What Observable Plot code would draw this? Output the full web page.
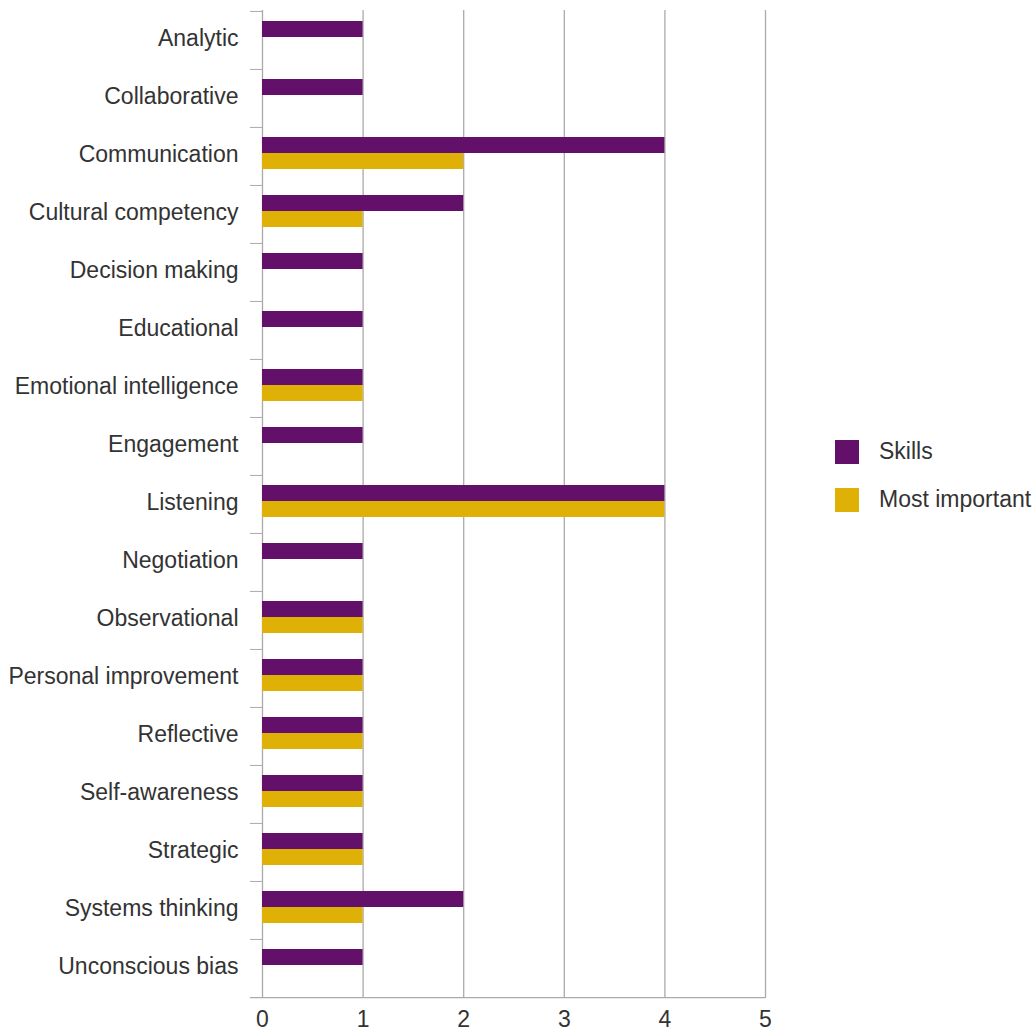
<!DOCTYPE html>
<html>
<head>
<meta charset="utf-8">
<script src="https://cdn.jsdelivr.net/npm/d3@7"></script>
<script src="https://cdn.jsdelivr.net/npm/@observablehq/plot@0.6"></script>
<style>
  html, body { margin: 0; padding: 0; background: #fff; }
  #wrap { position: relative; width: 1033px; height: 1033px; font-family: "Liberation Sans", Arial, sans-serif; }
  .legend { position: absolute; left: 835px; font-size: 23px; color: #333; display: flex; align-items: center; }
  .sw { width: 24px; height: 24px; margin-right: 20px; }
</style>
</head>
<body>
<div id="wrap"></div>
<script>
const categories = ["Analytic","Collaborative","Communication","Cultural competency","Decision making","Educational","Emotional intelligence","Engagement","Listening","Negotiation","Observational","Personal improvement","Reflective","Self-awareness","Strategic","Systems thinking","Unconscious bias"];
const skills =        [1,1,4,2,1,1,1,1,4,1,1,1,1,1,1,2,1];
const mostImportant = [0,0,2,1,0,0,1,0,4,0,1,1,1,1,1,1,0];
const xTicks = [0,1,2,3,4,5];
const seriesNames = ["Skills","Most important"];
const colors = ["#63106a","#dfb006"];

const skillsData = categories.map((c,i)=>({category:c, value:skills[i]}));
const mostData = categories.map((c,i)=>({category:c, value:mostImportant[i]})).filter(d=>d.value>0);

const plot = Plot.plot({
  width: 1033,
  height: 1033,
  marginLeft: 262,
  marginRight: 268,
  marginTop: 10,
  marginBottom: 35,
  style: {fontFamily: '"Liberation Sans", Arial, sans-serif', fontSize: "23px", color: "#333", background: "#fff"},
  x: {domain: [0,5], ticks: xTicks, label: null},
  y: {domain: categories, padding: 0, label: null},
  marks: [
    Plot.ruleX(xTicks.slice(1), {stroke: "#aaa", strokeWidth: 1.3}),
    Plot.ruleX([0], {stroke: "#aaa", strokeWidth: 1.3}),
    Plot.barX(skillsData, {x: "value", y: "category", fill: colors[0], insetTop: 10, insetBottom: 32}),
    Plot.barX(mostData, {x: "value", y: "category", fill: colors[1], insetTop: 26, insetBottom: 16}),
    Plot.axisY({tickSize: 12, text: null, dy: -29.06, stroke: "#aaa", label: null}),
    Plot.ruleY([0], {y: () => categories[categories.length-1], dy: 29.06, x1: -0.12, x2: 5, stroke: "#aaa", strokeWidth: 1.3}),
    Plot.axisY({tickSize: 0, tickPadding: 24, dy: -2, fill: "#333", fontSize: 23, label: null}),
    Plot.axisX({ticks: xTicks, tickFormat: "d", tickSize: 0, tickPadding: 12, fill: "#333", fontSize: 23, label: null})
  ]
});
document.getElementById("wrap").appendChild(plot);

const wrap = document.getElementById("wrap");
seriesNames.forEach((name,i)=>{
  const d = document.createElement("div");
  d.className = "legend";
  d.style.top = (438 + i*48) + "px";
  d.innerHTML = `<div class="sw" style="background:${colors[i]}"></div><span>${name}</span>`;
  wrap.appendChild(d);
});
</script>
</body>
</html>
